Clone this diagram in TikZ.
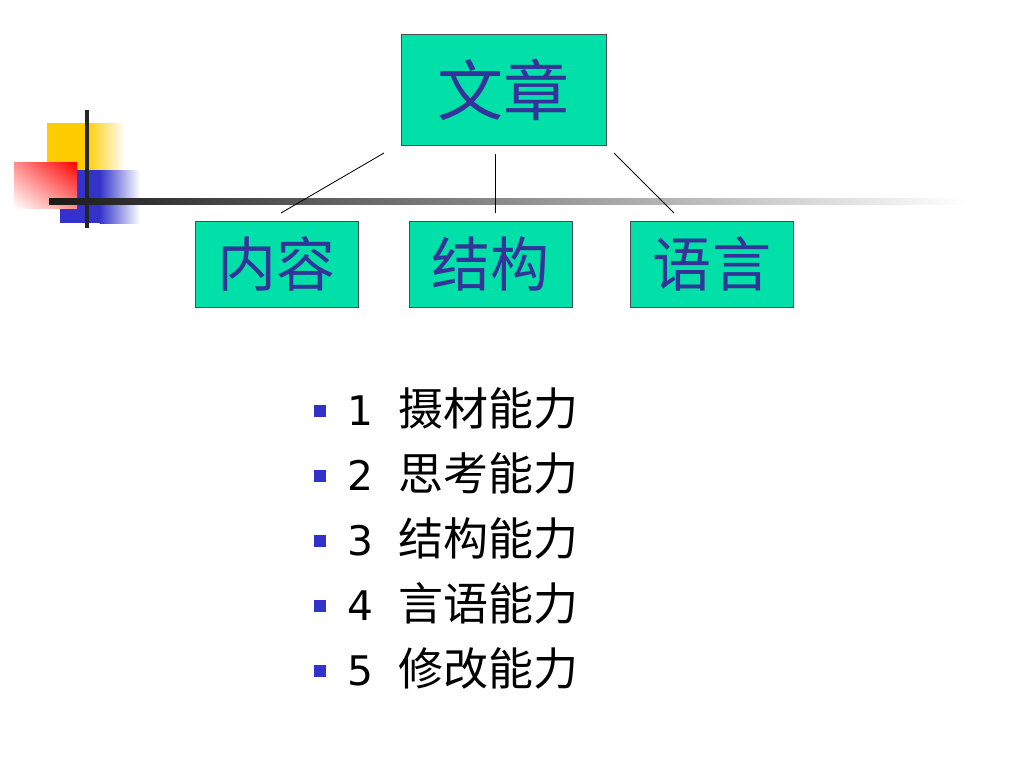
\documentclass[tikz,border=0pt]{standalone}
\usepackage{fontspec}
\usetikzlibrary{shadings}
\setmainfont{DejaVu Sans}
\newfontfamily\cjk{Noto Sans CJK SC}
\definecolor{boxgreen}{RGB}{0,224,168}
\definecolor{txtblue}{RGB}{51,51,153}
\definecolor{barblue}{RGB}{51,51,204}
\definecolor{sqyellow}{RGB}{255,204,0}

\begin{document}
\begin{tikzpicture}
  [x=0.25mm, y=-0.25mm,
   topic/.style={draw=black!70, fill=boxgreen, text=txtblue, inner sep=0pt,
                 minimum width=40.75mm, minimum height=21.5mm,
                 font=\cjk\fontsize{42}{42}\selectfont},
   root/.style={topic, minimum width=51.25mm, minimum height=27.75mm,
                font=\cjk\fontsize{47}{47}\selectfont},
   link/.style={draw=black, line width=0.6pt},
   bullet/.style={fill=barblue, inner sep=0pt, minimum size=3mm},
   num/.style={anchor=base west, inner sep=0pt, font=\fontsize{29}{29}\selectfont},
   item/.style={anchor=base west, inner sep=0pt, font=\cjk\fontsize{32}{32}\selectfont}]
  \useasboundingbox (0,0) rectangle (1024,768);
  % corner ornament
  \fill[sqyellow] (47,123) rectangle (87,170);
  \shade[left color=sqyellow, right color=white] (86.5,123) rectangle (125,170);
  \fill[barblue] (60,170) rectangle (100,223);
  \shade[left color=barblue, right color=white] (99.5,170) rectangle (140,223);
  \shade[upper right=red, lower left=white, upper left=red!45!white, lower right=red!45!white]
    (14,162) rectangle (77,208);
  \fill[black!85] (85,110) rectangle (89,228);
  \shade[left color=black!90, right color=white] (49,198) rectangle (965,204);
  % boxes
  \node[root]  (wz) at (503.5,89.5) {文章};
  \node[topic] (nr) at (276.5,264) {内容};
  \node[topic] (jg) at (490.5,264) {结构};
  \node[topic] (yy) at (712,264)   {语言};
  % connectors
  \coordinate (nr-a) at (384,153);
  \coordinate (nr-b) at (281,213);
  \coordinate (jg-a) at (495,154);
  \coordinate (jg-b) at (495,213);
  \coordinate (yy-a) at (614,153);
  \coordinate (yy-b) at (674,213);
  \draw[link] (nr-a) -- (nr-b);
  \draw[link] (jg-a) -- (jg-b);
  \draw[link] (yy-a) -- (yy-b);
  % list
  \foreach \n/\t [count=\i from 0] in {1/摄材能力, 2/思考能力, 3/结构能力, 4/言语能力, 5/修改能力}
  {
    \node[bullet] (sq-\n) at (320,411+65*\i) {};
    \node[num]  (num-\n) at (347,425+65*\i) {\n};
    \node[item] (it-\n)  at (398,425+65*\i) {\t};
  }
\end{tikzpicture}
\end{document}
